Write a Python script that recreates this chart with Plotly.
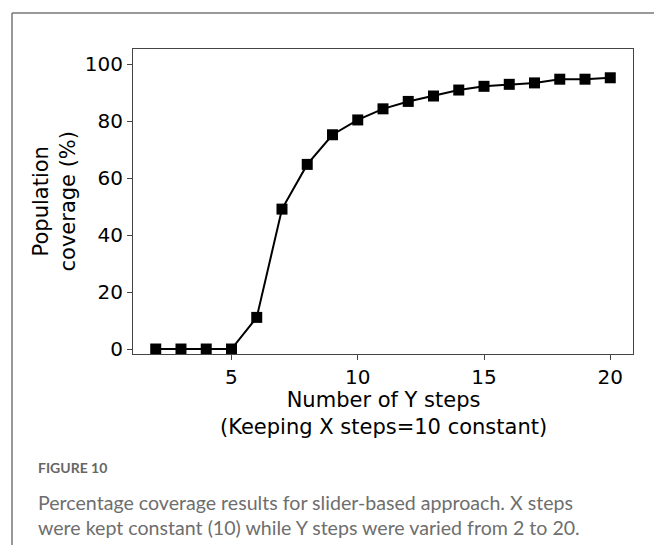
import plotly.graph_objects as go

y_steps = [2, 3, 4, 5, 6, 7, 8, 9, 10, 11, 12, 13, 14, 15, 16, 17, 18, 19, 20]
coverage = [0, 0, 0, 0, 11.1, 49.1, 64.8, 75.2, 80.4, 84.3, 86.9, 88.8, 90.9, 92.2, 92.9, 93.4, 94.7, 94.7, 95.2]
x_ticks = [5, 10, 15, 20]
y_ticks = [0, 20, 40, 60, 80, 100]

W, H = 654, 545
L, R, T, B = 133, 633, 49, 354

fig = go.Figure()
fig.add_trace(go.Scatter(
    x=y_steps, y=coverage, mode="lines+markers",
    line=dict(color="black", width=2),
    marker=dict(symbol="square", size=11, color="black"),
    showlegend=False,
))

axis_common = dict(
    showgrid=False, zeroline=False, showline=True, mirror=True,
    linecolor="#444", linewidth=1, ticks="outside", ticklen=5,
    tickcolor="#444", tickwidth=1,
    tickfont=dict(family="DejaVu Sans", size=20, color="black"),
)
fig.update_xaxes(range=[1.1, 20.9], tickvals=x_ticks, **axis_common)
fig.update_yaxes(range=[-1.75, 105.3], tickvals=y_ticks, **axis_common)

fig.update_layout(
    width=W, height=H,
    margin=dict(l=L, r=W - R, t=T, b=H - B, pad=0),
    plot_bgcolor="white", paper_bgcolor="white",
    annotations=[
        dict(text="Number of Y steps<br>(Keeping X steps=10 constant)",
             xref="paper", yref="paper", x=0.5, y=-(386 - B) / (B - T),
             xanchor="center", yanchor="top", showarrow=False,
             font=dict(family="DejaVu Sans", size=21, color="black")),
        dict(text="Population<br>coverage (%)", textangle=-90,
             xref="paper", yref="paper", x=-(L - 54) / (R - L), y=0.5,
             xanchor="center", yanchor="middle", showarrow=False,
             font=dict(family="DejaVu Sans", size=21, color="black")),
        dict(text="<b>FIGURE 10</b>", xref="paper", yref="paper",
             x=-(L - 36) / (R - L), y=-(467 - B) / (B - T),
             xanchor="left", yanchor="middle", showarrow=False,
             font=dict(family="Lato", size=14, color="#666")),
        dict(text="Percentage coverage results for slider-based approach. X steps<br>"
                  "were kept constant (10) while Y steps were varied from 2 to 20.",
             xref="paper", yref="paper", align="left",
             x=-(L - 36) / (R - L), y=-(489 - B) / (B - T),
             xanchor="left", yanchor="top", showarrow=False,
             font=dict(family="Lato", size=19.6, color="#6e6e6e")),
    ],
    shapes=[
        dict(type="line", xref="paper", yref="paper",
             x0=-(L - 12) / (R - L), x1=(W - L) / (R - L) + 0.01,
             y0=(B - 13) / (B - T), y1=(B - 13) / (B - T),
             line=dict(color="#777", width=1.5)),
        dict(type="line", xref="paper", yref="paper",
             x0=-(L - 12) / (R - L), x1=-(L - 12) / (R - L),
             y0=(B - 13) / (B - T), y1=-(H - B + 5) / (B - T),
             line=dict(color="#777", width=1.5)),
    ],
)

fig.write_html("out.html")
